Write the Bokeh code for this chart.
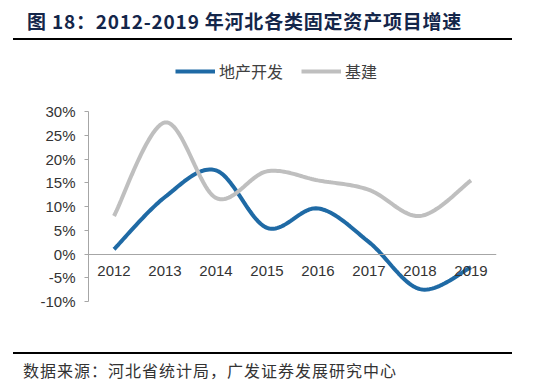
import numpy as np
from bokeh.plotting import figure
from bokeh.layouts import column
from bokeh.models import (FixedTicker, PrintfTickFormatter, Legend, LegendItem, Range1d, Div)
from bokeh.embed import file_html
from bokeh.resources import INLINE

years = ["2012", "2013", "2014", "2015", "2016", "2017", "2018", "2019"]
property_dev = [1.0, 12.0, 17.6, 5.5, 9.6, 2.5, -7.4, -2.8]     # 地产开发
infrastructure = [8.0, 27.7, 11.8, 17.4, 15.5, 13.5, 8.0, 15.5]  # 基建
y_ticks = [-10, -5, 0, 5, 10, 15, 20, 25, 30]
series_names = ["地产开发", "基建"]

title_text = "图 18：2012-2019 年河北各类固定资产项目增速"
source_text = "数据来源：河北省统计局，广发证券发展研究中心"


def smooth(ys, n=24):
    """Bezier (Excel-like) smoothing through the points, for drawing only."""
    pts = np.column_stack([np.arange(len(ys), dtype=float), np.asarray(ys, float)])
    xs_out, ys_out = [], []
    for i in range(len(pts) - 1):
        p0 = pts[i - 1] if i > 0 else pts[i]
        p1 = pts[i]
        p2 = pts[i + 1]
        p3 = pts[i + 2] if i + 2 < len(pts) else pts[i + 1]
        c1 = p1 + (p2 - p0) / 6.0
        c2 = p2 - (p3 - p1) / 6.0
        t = np.linspace(0, 1, n, endpoint=(i == len(pts) - 2))
        b = ((1 - t) ** 3)[:, None] * p1 + (3 * (1 - t) ** 2 * t)[:, None] * c1 \
            + (3 * (1 - t) * t ** 2)[:, None] * c2 + (t ** 3)[:, None] * p2
        xs_out.extend(b[:, 0]); ys_out.extend(b[:, 1])
    return xs_out, ys_out


W = 532
TITLE_H = 44
FIG_H = 300
SRC_H = 36

# layout (pixels, page coordinates)
frame_top_px, axis_top_px, axis_bot_px = 50, 111, 301
px_per_unit = (axis_bot_px - axis_top_px) / (y_ticks[-1] - y_ticks[0])
y_top = y_ticks[-1] + (axis_top_px - frame_top_px) / px_per_unit

p = figure(width=W, height=FIG_H, output_backend="svg", toolbar_location=None,
           x_range=Range1d(-0.5, len(years) - 0.5), y_range=Range1d(y_ticks[0], y_top),
           min_border_left=88, min_border_right=36,
           min_border_top=frame_top_px - TITLE_H,
           min_border_bottom=TITLE_H + FIG_H - axis_bot_px)
p.outline_line_color = None
p.grid.visible = False
p.background_fill_color = "white"
p.border_fill_color = "white"

bx, by = smooth(property_dev)
gx, gy = smooth(infrastructure)
r_blue = p.line(bx, by, line_color="#1f6aa5", line_width=4)
r_gray = p.line(gx, gy, line_color="#bfbfbf", line_width=4)

xa = p.xaxis[0]
xa.fixed_location = 0
xa.ticker = FixedTicker(ticks=list(range(len(years))))
xa.major_label_overrides = {i: y for i, y in enumerate(years)}
xa.major_tick_line_color = None
xa.minor_tick_line_color = None
xa.axis_line_color = "#a6a6a6"
xa.axis_line_width = 1
xa.major_label_standoff = 6
xa.major_label_text_font = "Liberation Sans"
xa.major_label_text_font_size = "15px"
xa.major_label_text_color = "#333333"

ya = p.yaxis[0]
ya.ticker = FixedTicker(ticks=y_ticks)
ya.bounds = (y_ticks[0], y_ticks[-1])
ya.formatter = PrintfTickFormatter(format="%d%%")
ya.axis_line_color = "#a6a6a6"
ya.major_tick_line_color = "#a6a6a6"
ya.major_tick_out = 4
ya.major_tick_in = 0
ya.minor_tick_line_color = None
ya.major_label_standoff = 9
ya.major_label_text_font = "Liberation Sans"
ya.major_label_text_font_size = "15px"
ya.major_label_text_color = "#333333"

legend = Legend(items=[LegendItem(label=series_names[0], renderers=[r_blue]),
                       LegendItem(label=series_names[1], renderers=[r_gray])],
                orientation="horizontal", location=(175 - 88, axis_bot_px - 83),
                glyph_width=40, glyph_height=16, label_standoff=4, spacing=18,
                label_text_font="Noto Sans CJK SC", label_text_font_size="16px",
                label_text_color="#404040", background_fill_alpha=0, border_line_color=None,
                padding=0, margin=0)
p.add_layout(legend, "center")

title_html = (
    f'<div style="position:relative;width:{W}px;height:{TITLE_H}px;">'
    f'<div style="position:absolute;left:27px;top:9px;font-family:\'Noto Sans CJK SC\';'
    f'font-weight:bold;font-size:19px;letter-spacing:0.8px;line-height:24px;color:#14264a;'
    f'white-space:nowrap;">{title_text}</div>'
    f'<div style="position:absolute;left:13px;top:38px;width:499px;height:2px;background:#000;"></div>'
    f'</div>')
source_html = (
    f'<div style="position:relative;width:{W}px;height:{SRC_H}px;">'
    f'<div style="position:absolute;left:13px;top:8px;width:499px;height:2px;background:#000;"></div>'
    f'<div style="position:absolute;left:23px;top:15px;font-family:\'Noto Sans CJK SC\';'
    f'font-size:16px;letter-spacing:1px;line-height:22px;color:#333333;white-space:nowrap;">'
    f'{source_text}</div>'
    f'</div>')

title_div = Div(text=title_html, width=W, height=TITLE_H, margin=0)
source_div = Div(text=source_html, width=W, height=SRC_H, margin=0)

layout = column(title_div, p, source_div, spacing=0)
open("out.html", "w").write(file_html(layout, INLINE))
